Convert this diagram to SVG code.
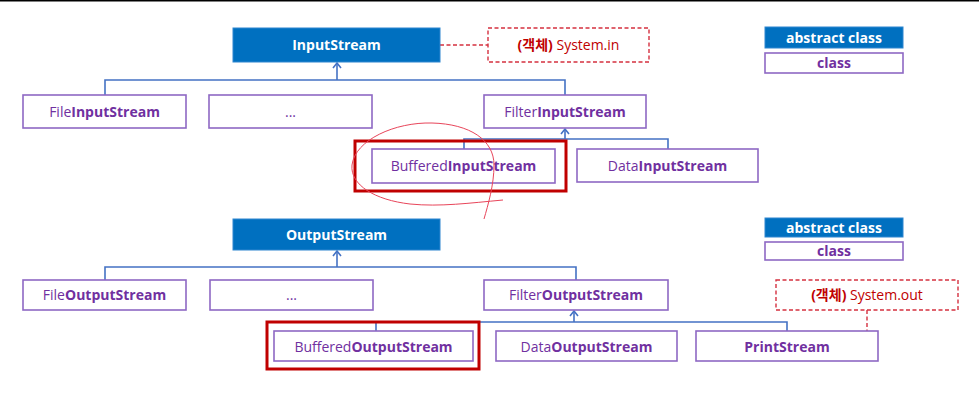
<svg xmlns="http://www.w3.org/2000/svg" width="979" height="412" viewBox="0 0 979 412">
<defs>
<style>
text{font-family:"Open Sans","Noto Sans CJK KR",sans-serif;font-size:14px;text-anchor:middle}
.abs rect{fill:#0070C0;stroke:#2E86D0;stroke-width:1}
.abs text{fill:#ffffff;font-weight:bold}
.cls rect{fill:#ffffff;stroke:#8E68C4;stroke-width:1.6}
.cls text{fill:#7030A0}
.b{font-weight:bold}
.obj rect{fill:#ffffff;stroke:#D5303F;stroke-width:1.4;stroke-dasharray:4 2.5}
.obj text{fill:#C00000}
.conn{fill:none;stroke:#4472C4;stroke-width:1.6}
.dash{fill:none;stroke:#D5303F;stroke-width:1.4;stroke-dasharray:4 2.5}
.hl{fill:none;stroke:#C00000;stroke-width:3}
</style>
<marker id="arr" viewBox="0 0 10 10" refX="8" refY="5" markerWidth="10" markerHeight="10" markerUnits="userSpaceOnUse" orient="auto">
<path d="M3 1 L8 5 L3 9" fill="none" stroke="#4472C4" stroke-width="1.6"/>
</marker>
</defs>
<rect x="0" y="0" width="979" height="412" fill="#ffffff"/>
<line x1="0" y1="0.5" x2="979" y2="0.5" stroke="#000" stroke-width="2"/>

<g id="connectors">
<path class="conn" d="M105 95 V80 H565 V95"/>
<path class="conn" d="M337 80 V63" marker-end="url(#arr)"/>
<path class="conn" d="M464 149 V139 H668 V149"/>
<path class="conn" d="M565 139 V129" marker-end="url(#arr)"/>
<path class="conn" d="M105 280 V267 H576 V280"/>
<path class="conn" d="M337 267 V251" marker-end="url(#arr)"/>
<path class="conn" d="M376 331 V322 H787 V331"/>
<path class="conn" d="M574 322 V311" marker-end="url(#arr)"/>
<path class="dash" d="M440 45 H488"/>
<path class="dash" d="M867 310 V331"/>
</g>

<g id="InputStream" class="abs"><rect x="233" y="28" width="207" height="34"/><text x="336.5" y="50">InputStream</text></g>
<g id="SystemIn" class="obj"><rect x="488" y="28" width="161" height="34"/><text x="568.5" y="50"><tspan class="b">(객체)</tspan> System.in</text></g>
<g id="legend1abs" class="abs"><rect x="765" y="27" width="138" height="21"/><text x="834" y="43">abstract class</text></g>
<g id="legend1cls" class="cls"><rect x="765" y="53" width="138" height="20"/><text x="834" y="68" class="b">class</text></g>

<g id="FileInputStream" class="cls"><rect x="23" y="95" width="163" height="33"/><text x="104.5" y="117">File<tspan class="b">InputStream</tspan></text></g>
<g id="InputEtc" class="cls"><rect x="209" y="95" width="163" height="33"/><text x="290.5" y="117">...</text></g>
<g id="FilterInputStream" class="cls"><rect x="484" y="95" width="162" height="33"/><text x="565" y="117">Filter<tspan class="b">InputStream</tspan></text></g>
<g id="BufferedInputStream" class="cls"><rect x="372" y="149" width="183" height="34"/><text x="463.5" y="171">Buffered<tspan class="b">InputStream</tspan></text></g>
<g id="DataInputStream" class="cls"><rect x="577" y="149" width="181" height="33"/><text x="667.5" y="171">Data<tspan class="b">InputStream</tspan></text></g>

<g id="OutputStream" class="abs"><rect x="233" y="219" width="207" height="31"/><text x="336.5" y="240">OutputStream</text></g>
<g id="legend2abs" class="abs"><rect x="765" y="218" width="138" height="19"/><text x="834" y="233">abstract class</text></g>
<g id="legend2cls" class="cls"><rect x="765" y="242" width="138" height="18"/><text x="834" y="256" class="b">class</text></g>

<g id="FileOutputStream" class="cls"><rect x="23" y="280" width="163" height="30"/><text x="104.5" y="300">File<tspan class="b">OutputStream</tspan></text></g>
<g id="OutputEtc" class="cls"><rect x="210" y="280" width="163" height="30"/><text x="291.5" y="300">...</text></g>
<g id="FilterOutputStream" class="cls"><rect x="484" y="280" width="184" height="30"/><text x="576" y="300">Filter<tspan class="b">OutputStream</tspan></text></g>
<g id="SystemOut" class="obj"><rect x="776" y="280" width="182" height="30"/><text x="867" y="300"><tspan class="b">(객체)</tspan> System.out</text></g>
<g id="BufferedOutputStream" class="cls"><rect x="274" y="331" width="199" height="30"/><text x="373.5" y="352">Buffered<tspan class="b">OutputStream</tspan></text></g>
<g id="DataOutputStream" class="cls"><rect x="496" y="331" width="181" height="30"/><text x="586.5" y="352">Data<tspan class="b">OutputStream</tspan></text></g>
<g id="PrintStream" class="cls"><rect x="696" y="331" width="182" height="30"/><text x="787" y="352" class="b">PrintStream</text></g>

<g id="highlights">
<rect class="hl" x="355" y="141" width="211" height="50"/>
<rect class="hl" x="267" y="322" width="212" height="47"/>
<path d="M503 200 C470 203 440 207 410 204 C375 200 350 185 352 165 C355 140 395 122 432 123 C470 124 494 140 494 165 C494 185 488 205 484 219" fill="none" stroke="#E8455A" stroke-width="1"/>
</g>
</svg>
